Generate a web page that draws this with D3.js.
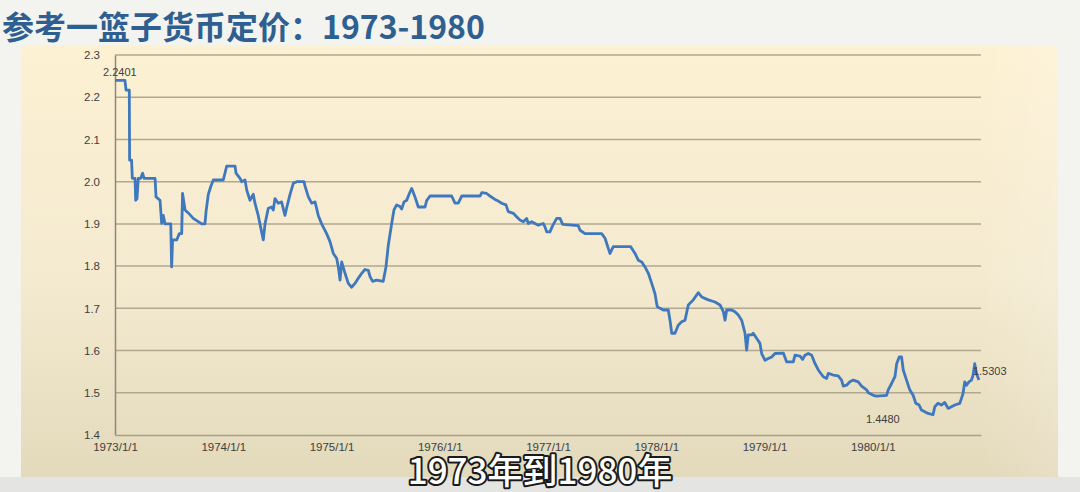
<!DOCTYPE html>
<html><head><meta charset="utf-8">
<script src="https://cdn.jsdelivr.net/npm/d3@7"></script>
<style>html,body{margin:0;padding:0;background:#f2f2ef;}svg{display:block;}</style>
</head><body>
<svg id="c" width="1080" height="492"></svg>
<script>
const titleText = "参考一篮子货币定价：1973-1980";
const subtitleText = "1973年到1980年";
const yTicks = [1.4, 1.5, 1.6, 1.7, 1.8, 1.9, 2.0, 2.1, 2.2, 2.3];
const xTickYears = [1973, 1974, 1975, 1976, 1977, 1978, 1979, 1980];
const xTickLabels = ["1973/1/1","1974/1/1","1975/1/1","1976/1/1","1977/1/1","1978/1/1","1979/1/1","1980/1/1"];
// decimal-year positions of observations
const years = [1973.000,1973.092,1973.102,1973.132,1973.135,1973.153,1973.160,1973.185,1973.191,1973.203,
1973.215,1973.237,1973.255,1973.268,1973.370,1973.379,1973.416,1973.431,1973.446,1973.462,
1973.515,1973.523,1973.532,1973.570,1973.594,1973.616,1973.624,1973.647,1973.677,1973.723,
1973.801,1973.831,1973.841,1973.862,1973.884,1973.908,1974.000,1974.016,1974.032,1974.109,
1974.118,1974.155,1974.170,1974.201,1974.217,1974.247,1974.277,1974.293,1974.323,1974.339,
1974.370,1974.386,1974.416,1974.447,1974.462,1974.478,1974.508,1974.539,1974.570,1974.585,
1974.617,1974.647,1974.678,1974.746,1974.755,1974.786,1974.817,1974.848,1974.878,1974.909,
1974.955,1974.986,1975.017,1975.048,1975.063,1975.079,1975.094,1975.125,1975.155,1975.186,
1975.217,1975.247,1975.279,1975.309,1975.340,1975.356,1975.380,1975.417,1975.478,1975.503,
1975.525,1975.556,1975.577,1975.602,1975.633,1975.648,1975.670,1975.695,1975.719,1975.741,
1975.771,1975.802,1975.864,1975.879,1975.910,1976.110,1976.141,1976.171,1976.203,1976.372,
1976.388,1976.434,1976.464,1976.510,1976.541,1976.572,1976.612,1976.633,1976.680,1976.710,
1976.741,1976.772,1976.803,1976.817,1976.849,1976.880,1976.910,1976.956,1976.972,1976.988,
1977.018,1977.043,1977.080,1977.111,1977.136,1977.279,1977.296,1977.342,1977.496,1977.527,
1977.557,1977.573,1977.603,1977.764,1977.804,1977.834,1977.866,1977.896,1977.927,1977.958,
1977.988,1978.009,1978.035,1978.065,1978.111,1978.127,1978.143,1978.173,1978.203,1978.235,
1978.266,1978.296,1978.342,1978.388,1978.420,1978.481,1978.543,1978.589,1978.620,1978.635,
1978.651,1978.697,1978.727,1978.758,1978.789,1978.820,1978.835,1978.850,1978.881,1978.896,
1978.927,1978.958,1978.974,1979.005,1979.035,1979.066,1979.097,1979.174,1979.205,1979.266,
1979.282,1979.328,1979.352,1979.374,1979.404,1979.436,1979.467,1979.497,1979.543,1979.574,
1979.589,1979.635,1979.681,1979.712,1979.728,1979.758,1979.789,1979.820,1979.866,1979.897,
1979.928,1979.943,1979.959,1980.005,1980.036,1980.128,1980.143,1980.174,1980.205,1980.221,
1980.245,1980.266,1980.282,1980.312,1980.342,1980.373,1980.398,1980.428,1980.450,1980.480,
1980.511,1980.557,1980.573,1980.603,1980.634,1980.665,1980.696,1980.727,1980.758,1980.804,
1980.834,1980.850,1980.866,1980.889,1980.912,1980.927,1980.942,1980.951,1980.963,1980.981];
const values = [2.2401,2.240,2.217,2.217,2.051,2.051,2.008,2.008,1.956,1.960,
2.008,2.008,2.020,2.008,2.008,1.964,1.956,1.901,1.920,1.900,
1.900,1.798,1.862,1.862,1.877,1.877,1.972,1.933,1.926,1.913,
1.900,1.900,1.929,1.970,1.988,2.004,2.004,2.020,2.037,2.037,
2.020,2.008,2.000,2.004,1.980,1.956,1.970,1.949,1.920,1.900,
1.862,1.900,1.937,1.940,1.933,1.960,1.949,1.952,1.920,1.937,
1.970,1.996,2.000,2.000,1.990,1.964,1.949,1.952,1.920,1.900,
1.877,1.858,1.830,1.818,1.798,1.767,1.810,1.783,1.759,1.750,
1.759,1.771,1.783,1.792,1.790,1.775,1.764,1.767,1.764,1.798,
1.850,1.901,1.933,1.945,1.941,1.935,1.952,1.956,1.972,1.984,
1.964,1.940,1.940,1.955,1.966,1.966,1.949,1.949,1.966,1.966,
1.974,1.972,1.966,1.958,1.954,1.949,1.945,1.929,1.925,1.917,
1.909,1.905,1.913,1.901,1.905,1.901,1.897,1.901,1.893,1.881,
1.881,1.896,1.913,1.913,1.899,1.896,1.885,1.877,1.877,1.866,
1.842,1.830,1.846,1.846,1.830,1.814,1.810,1.798,1.783,1.759,
1.735,1.704,1.700,1.696,1.696,1.672,1.641,1.641,1.660,1.668,
1.672,1.708,1.720,1.737,1.727,1.720,1.715,1.708,1.692,1.672,
1.696,1.696,1.692,1.684,1.672,1.641,1.601,1.637,1.637,1.641,
1.629,1.617,1.593,1.577,1.581,1.585,1.593,1.594,1.573,1.573,
1.589,1.587,1.579,1.589,1.593,1.589,1.569,1.554,1.538,1.534,
1.546,1.542,1.540,1.530,1.516,1.518,1.526,1.530,1.526,1.516,
1.510,1.507,1.500,1.494,1.492,1.494,1.507,1.522,1.538,1.569,
1.585,1.585,1.554,1.530,1.507,1.494,1.475,1.471,1.459,1.455,
1.451,1.4480,1.467,1.475,1.471,1.477,1.463,1.467,1.471,1.475,
1.498,1.526,1.518,1.526,1.530,1.542,1.569,1.554,1.542,1.5303];
const labelStart = "2.2401", labelMin = "1.4480", labelEnd = "1.5303";

const svg = d3.select("#c");
const defs = svg.append("defs");
const g1 = defs.append("linearGradient").attr("id","bg").attr("x1",0).attr("y1",0).attr("x2",0).attr("y2",1);
g1.append("stop").attr("offset","0%").attr("stop-color","#fdf1d3");
g1.append("stop").attr("offset","55%").attr("stop-color","#f4ead0");
g1.append("stop").attr("offset","100%").attr("stop-color","#e3d9bb");
const g2 = defs.append("linearGradient").attr("id","side").attr("x1",0).attr("y1",0).attr("x2",1).attr("y2",0);
g2.append("stop").attr("offset","0%").attr("stop-color","#ffffff").attr("stop-opacity",0.0);
g2.append("stop").attr("offset","92%").attr("stop-color","#ffffff").attr("stop-opacity",0.0);
g2.append("stop").attr("offset","100%").attr("stop-color","#ffffff").attr("stop-opacity",0.15);

// page
svg.append("rect").attr("x",0).attr("y",0).attr("width",1080).attr("height",492).attr("fill","#f3f3f0");
svg.append("rect").attr("x",0).attr("y",477).attr("width",1080).attr("height",15).attr("fill","#e4e4e2");
svg.append("rect").attr("x",21).attr("y",45).attr("width",1037).attr("height",432).attr("fill","url(#bg)");
svg.append("rect").attr("x",21).attr("y",45).attr("width",1037).attr("height",432).attr("fill","url(#side)");

// title
svg.append("text").attr("x",2).attr("y",39).text(titleText)
  .attr("font-family","'Noto Sans CJK SC', sans-serif").attr("font-weight",700)
  .attr("font-size",32).attr("fill","#2f5f90");

const x = d3.scaleLinear().domain([1973, 1981]).range([115, 981]);
const y = d3.scaleLinear().domain([1.4, 2.3]).range([435, 55]);

// gridlines
svg.append("g").selectAll("line").data(yTicks.slice(1)).join("line")
  .attr("x1", x(1973)).attr("x2", x(1981))
  .attr("y1", d => y(d)).attr("y2", d => y(d))
  .attr("stroke","#b0a88f").attr("stroke-width",1.5);

// axes
const yAxis = d3.axisLeft(y).tickValues(yTicks).tickFormat(d3.format(".1f")).tickSize(0).tickPadding(15);
const ya = svg.append("g").attr("transform",`translate(${x(1973)},0)`).call(yAxis);
ya.select(".domain").attr("stroke","#8c887c").attr("stroke-width",1.5);
ya.selectAll("text").attr("font-family","'Liberation Sans', Arial, sans-serif").attr("font-size",11.5).attr("fill","#404040");

const xAxis = d3.axisBottom(x).tickValues(xTickYears).tickFormat((d,i) => xTickLabels[i]).tickSize(0).tickPadding(8);
const xa = svg.append("g").attr("transform",`translate(0,${y(1.4)})`).call(xAxis);
xa.select(".domain").attr("stroke","#a8a08a").attr("stroke-width",1.5);
xa.selectAll("text").attr("font-family","'Liberation Sans', Arial, sans-serif").attr("font-size",11.5).attr("fill","#404040");

// line
const pts = years.map((t,i) => [t, values[i]]);
const line = d3.line().x(d => x(d[0])).y(d => y(d[1]));
svg.append("path").datum(pts).attr("d", line)
  .attr("fill","none").attr("stroke","#3f78bd").attr("stroke-width",2.8).attr("stroke-linejoin","round");

// data labels
const lab = (t, v, dx, dy, s, anchor) => svg.append("text").attr("x", x(t)+dx).attr("y", y(v)+dy).text(s)
  .attr("font-family","'Liberation Sans', Arial, sans-serif").attr("font-size",11).attr("fill","#404040").attr("text-anchor",anchor);
const iMin = values.indexOf(d3.min(values));
lab(years[0], values[0], -12, -4, labelStart, "start");
lab(years[iMin], values[iMin], -67, 8, labelMin, "start");
lab(years[years.length-1], values[values.length-1], -6, -5, labelEnd, "start");

// subtitle
svg.append("text").attr("x",540).attr("y",484).attr("text-anchor","middle").text(subtitleText)
  .attr("font-family","'Noto Sans CJK SC', sans-serif").attr("font-size",35).attr("font-weight",500)
  .attr("fill","#ffffff").attr("stroke","#1a1a1a").attr("stroke-width",4).attr("paint-order","stroke")
  .attr("stroke-linejoin","round");
</script>
</body></html>
